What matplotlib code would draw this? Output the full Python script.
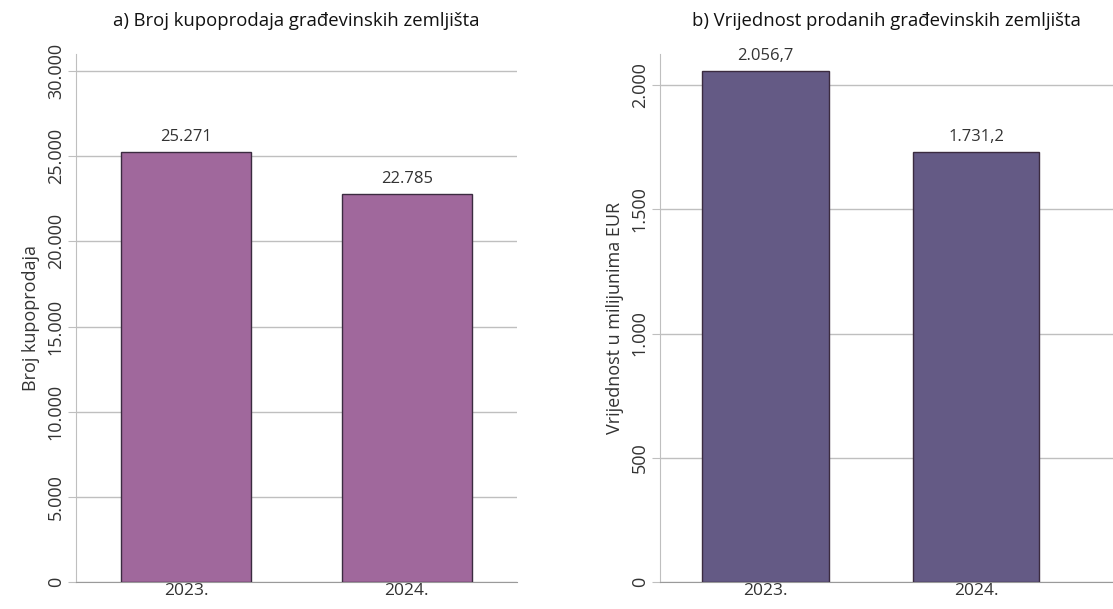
import numpy as np
import matplotlib
matplotlib.use("Agg")
from matplotlib import pyplot as plt

godine = ["2023.", "2024."]
broj = [25271, 22785]
broj_lbl = ["25.271", "22.785"]
vrijednost = [2056.7, 1731.2]
vrijednost_lbl = ["2.056,7", "1.731,2"]

plt.rcParams['font.family'] = ['Open Sans', 'DejaVu Sans']
txt = "#333333"

fig = plt.figure(figsize=(11.13, 6.09), dpi=100)
W, H = 1113, 609

def px(x0, y0, x1, y1):
    return [x0 / W, 1 - y1 / H, (x1 - x0) / W, (y1 - y0) / H]

def crtaj(ax, vals, lbls, boja, width, ticks, ymax, tickfmt, title, ylabel, xmax):
    x = np.arange(len(vals))
    ax.bar(x, vals, width=width, color=boja, edgecolor="#3b2b40", linewidth=1.0, zorder=3)
    for xi, v, l in zip(x, vals, lbls):
        ax.annotate(l, (xi, v), xytext=(0, 5), textcoords="offset points",
                    ha="center", va="bottom", fontsize=12, color=txt)
    ax.set_ylim(0, ymax)
    ax.set_xlim(-0.5, xmax)
    ax.set_yticks(ticks)
    ax.set_yticklabels([tickfmt(t) for t in ticks], rotation=90, va="center",
                       fontsize=13, color=txt)
    ax.set_xticks(x)
    ax.set_xticklabels(godine, fontsize=12.5, color=txt)
    ax.tick_params(axis="x", length=0, pad=1)
    ax.tick_params(axis="y", length=6, color="#bfbfbf", pad=2)
    ax.grid(axis="y", color="#bfbfbf", linewidth=1.0, zorder=0)
    for s in ["top", "right"]:
        ax.spines[s].set_visible(False)
    ax.spines["left"].set_color("#bfbfbf")
    ax.spines["bottom"].set_color("#9a9a9a")
    ax.set_title(title, fontsize=13.3, color="#111111", pad=20)
    ax.set_ylabel(ylabel, fontsize=13, color=txt, labelpad=5)

def fmt_int(t):
    return f"{int(t):,}".replace(",", ".")

ax1 = fig.add_axes(px(76, 54, 517, 582))
crtaj(ax1, broj, broj_lbl, "#a0689c", 0.59, np.arange(0, 30001, 5000), 31000,
      fmt_int, "a) Broj kupoprodaja građevinskih zemljišta", "Broj kupoprodaja", 1.5)

ax2 = fig.add_axes(px(660, 54, 1113, 582))
crtaj(ax2, vrijednost, vrijednost_lbl, "#645a85", 0.6, np.arange(0, 2001, 500), 2125,
      fmt_int, "b) Vrijednost prodanih građevinskih zemljišta", "Vrijednost u milijunima EUR", 1.65)

fig.savefig("out.png", dpi=100)
